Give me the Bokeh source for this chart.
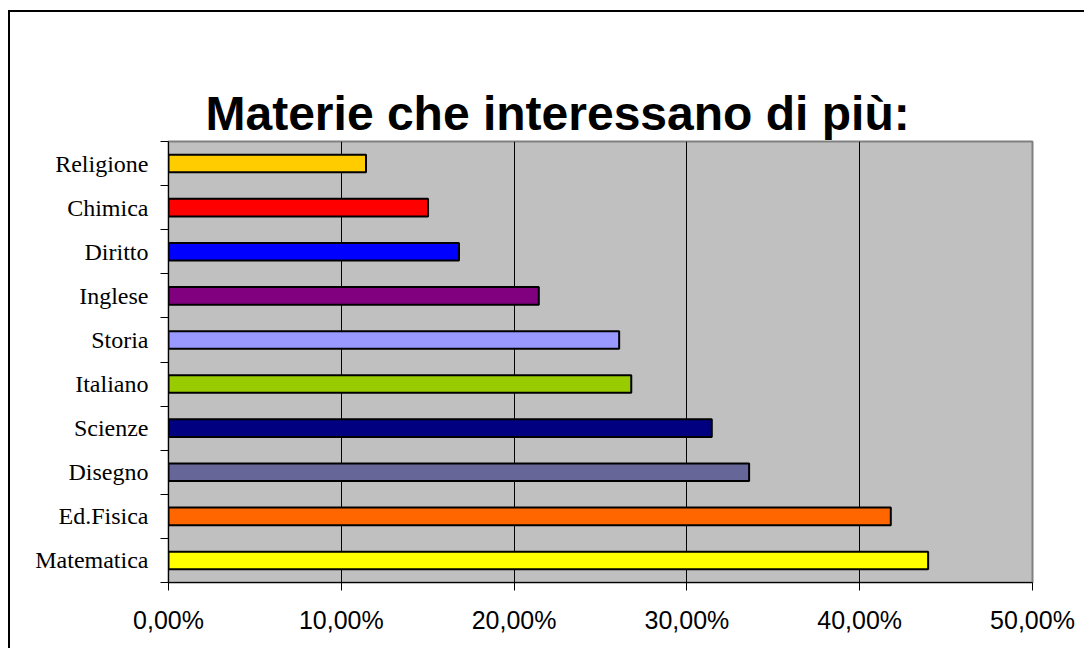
from bokeh.plotting import figure
from bokeh.models import Range1d, FixedTicker, CustomJSTickFormatter, ColumnDataSource, Title
from bokeh.embed import file_html
from bokeh.resources import INLINE

categories = ["Matematica", "Ed.Fisica", "Disegno", "Scienze", "Italiano",
              "Storia", "Inglese", "Diritto", "Chimica", "Religione"]
values = [43.96, 41.8, 33.6, 31.44, 26.78, 26.08, 21.43, 16.81, 15.02, 11.43]
colors = ["#FFFF00", "#FF6600", "#666699", "#000080", "#99CC00",
          "#9999FF", "#800080", "#0000FF", "#FF0000", "#FFCC00"]
x_ticks = [0, 10, 20, 30, 40, 50]
title_text = "Materie che interessano di più:"

n = len(categories)
pos = [i + 0.5 for i in range(n)]
src = ColumnDataSource(dict(y=pos, v=values, c=colors, cat=categories))

W, H = 1076, 638
p = figure(width=W, height=H, output_backend="svg", toolbar_location=None,
           x_range=Range1d(0, 50), y_range=Range1d(0, n),
           min_border_left=158, min_border_right=54, min_border_top=129,
           min_border_bottom=68, title=None)
p.styles = {"border-left": "2px solid #000", "border-top": "2px solid #000",
            "margin-left": "8px", "margin-top": "10px"}
p.background_fill_color = "#C0C0C0"
p.border_fill_color = "white"
p.outline_line_color = "#808080"
p.outline_line_width = 2

# real title (outer panel), then a spacer panel closest to the frame
p.add_layout(Title(text=title_text, align="left", vertical_align="top", offset=37,
                   standoff=0, text_font="Liberation Sans", text_font_size="48px",
                   text_font_style="bold", text_color="black"), "above")
p.add_layout(Title(text=" ", text_font_size="1px", text_alpha=0, standoff=46), "above")

p.hbar(y="y", right="v", left=0, height=0.4, source=src, fill_color="c",
       line_color="black", line_width=2)

p.ygrid.grid_line_color = None
p.xgrid.grid_line_color = "black"
p.xgrid.grid_line_width = 1
p.xgrid.ticker = FixedTicker(ticks=x_ticks)

xa = p.xaxis[0]
xa.ticker = FixedTicker(ticks=x_ticks)
xa.formatter = CustomJSTickFormatter(code="return tick.toFixed(2).replace('.', ',') + '%';")
xa.major_tick_out = 8
xa.major_tick_in = 0
xa.minor_tick_line_color = None
xa.axis_line_color = "black"
xa.axis_line_width = 1
xa.major_tick_line_color = "black"
xa.major_label_text_font = "Liberation Sans"
xa.major_label_text_font_size = "25px"
xa.major_label_text_color = "black"
xa.major_label_standoff = 15

ya = p.yaxis[0]
ya.ticker = FixedTicker(ticks=pos, minor_ticks=list(range(n + 1)))
ya.formatter = CustomJSTickFormatter(args=dict(cats=categories),
                                     code="return cats[Math.floor(tick)];")
ya.major_tick_line_color = None
ya.major_tick_out = 0
ya.major_tick_in = 0
ya.minor_tick_out = 8
ya.minor_tick_in = 0
ya.minor_tick_line_color = "black"
ya.axis_line_color = "black"
ya.axis_line_width = 1
ya.major_label_text_font = "Liberation Serif"
ya.major_label_text_font_size = "24px"
ya.major_label_text_color = "black"
ya.major_label_standoff = 12

open("out.html", "w").write(file_html(p, INLINE))
